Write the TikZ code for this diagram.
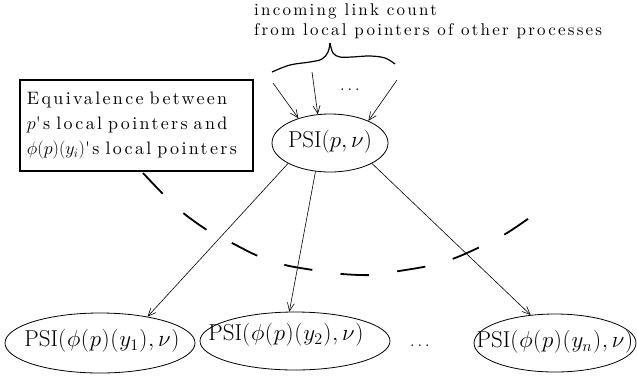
\RequirePackage{fix-cm}
\documentclass[tikz,border=0pt]{standalone}
\usepackage{fontspec}
\newfontfamily\spacedfont{lmroman10-regular}[Extension=.otf, LetterSpace=13]
\usetikzlibrary{arrows.meta,shapes.geometric}
\begin{document}
\begin{tikzpicture}[x=1pt,y=-1pt,
  toptxt/.style={font={\spacedfont\fontsize{17}{20}\selectfont}, inner sep=0pt},
  boxtxt/.style={draw, line width=2.4pt, fill=white, text width=219pt, inner xsep=7pt,
     minimum height=91pt, align=left, font={\spacedfont\fontsize{18}{25}\selectfont}},
  psishape/.style={ellipse, draw, line width=0.8pt, inner sep=0pt},
  psitext/.style={font=\fontsize{23}{27}\selectfont, inner sep=0pt},
  dotstxt/.style={font=\fontsize{17}{20}\selectfont, inner sep=0pt},
  arr/.style={-{Straight Barb[length=8pt,width=7pt]}, line width=0.6pt},
  bigdash/.style={line width=1.8pt, dash pattern=on 28.5pt off 28.5pt}]
\useasboundingbox (0,0) rectangle (637,376);

% top text
\node[toptxt, anchor=base west] (l1) at (254,15) {incoming link count};
\node[toptxt, anchor=base west] (l2) at (254,35) {from local pointers of other processes};

% brace
\coordinate (peak) at (330,43);
\draw[line width=1.2pt] plot[smooth, tension=0.6] coordinates {(272,72) (290,65) (310,62) (322,59) (328,52) (peak)};
\draw[line width=1.2pt] plot[smooth, tension=0.6] coordinates {(peak) (333,53) (340,57) (352,57) (370,56) (385,58) (395,64)};

% top ellipse
\node[psishape, minimum width=116pt, minimum height=58pt] (top) at (330,143) {};
\node[psitext] (toplabel) at (330,142) {$\mathrm{PSI}(p,\nu)$};

% incoming arrows
\coordinate (s1) at (273,83);
\coordinate (s2) at (312,72);
\coordinate (s3) at (397,80);
\draw[arr] (s1) -- (top.142);
\draw[arr] (s2) -- (top.113);
\draw[arr] (s3) -- (top.30);
\node[dotstxt] (topdots) at (350,90) {$\ldots$};

% big dashed curve
\draw[bigdash] plot[smooth] coordinates {(143,173) (162,193) (182,212) (207,230) (232,243) (258,256) (285,265) (313,270) (342,274) (372,275) (399,271) (428,266) (455,258) (482,246) (507,233) (532,216)};

% box
\node[boxtxt] (eq) at (136.5,125.5) {Equivalence between\\ $p$'s local pointers and\\ $\phi(p)(y_i)$'s local pointers};

% bottom ellipses
\node[psishape, minimum width=190pt, minimum height=60pt] (b1) at (100,343) {};
\node[psitext] (t1) at (102,341) {$\mathrm{PSI}(\mkern.5mu\phi\mkern.5mu(\mkern.5mu p\mkern.5mu)\mkern.5mu(\mkern.5mu y_1\mkern.5mu)\mkern.5mu,\nu\mkern.5mu)$};
\node[psishape, minimum width=190pt, minimum height=58pt] (b2) at (295,341) {};
\node[psitext] (t2) at (286,335) {$\mathrm{PSI}(\mkern.5mu\phi\mkern.5mu(\mkern.5mu p\mkern.5mu)\mkern.5mu(\mkern.5mu y_2\mkern.5mu)\mkern.5mu,\nu\mkern.5mu)$};
\node[psishape, minimum width=162pt, minimum height=58pt] (b3) at (555,343) {};
\node[psitext] (t3) at (555,342) {$\mathrm{PSI}(\mkern.5mu\phi\mkern.5mu(\mkern.5mu p\mkern.5mu)\mkern.5mu(\mkern.5mu y_n\mkern.5mu)\mkern.5mu,\nu\mkern.5mu)$};
\node[dotstxt] (botdots) at (420,346) {$\ldots$};

% outgoing arrows
\draw[arr] (top.206) -- (b1.29);
\draw[arr] (top.243) -- (b2.101);
\draw[arr] (top.334) -- (b3.131);
\end{tikzpicture}
\end{document}
